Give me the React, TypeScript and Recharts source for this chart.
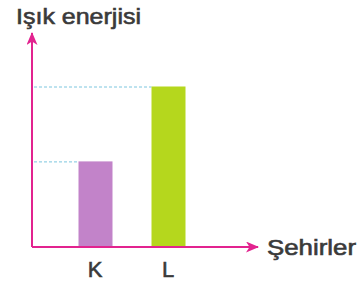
import React from "react";
import { BarChart, Bar, XAxis, YAxis, Cell } from "recharts";

const categories = ["K", "L"];
const energyValues = [4, 7.5];
const barColors = ["#c283c9", "#b5d71d"];
const yDomain: [number, number] = [0, 10];
const yTitle = "Işık enerjisi";
const xTitle = "Şehirler";

const data = categories.map((c, i) => ({ city: c, energy: energyValues[i] }));

const W = 359;
const H = 283;
const MARGIN = { top: 33, right: 101, bottom: 0, left: 30 };
const Y_AXIS_W = 2;
const AXIS = "#e2238f";
const DASH = "#7cc6df";
const TEXT = "#3a3a3a";
const FONT = "'Liberation Sans', Arial, sans-serif";

const BarWithGuide = (props: any) => {
  const { x, y, width, height, fill } = props;
  return (
    <g>
      <line
        x1={MARGIN.left + Y_AXIS_W + 2}
        y1={y + 0.5}
        x2={x}
        y2={y + 0.5}
        stroke={DASH}
        strokeWidth={1}
        strokeDasharray="3 2"
      />
      <rect x={x} y={y} width={width} height={height} fill={fill} />
    </g>
  );
};

const Tick = (props: any) => {
  const { x, payload } = props;
  return (
    <text
      x={x}
      y={277}
      textAnchor="middle"
      fontFamily={FONT}
      fontSize={22}
      fill={TEXT}
      stroke={TEXT}
      strokeWidth={0.6}
    >
      {payload.value}
    </text>
  );
};

export default function App() {
  return (
    <div style={{ position: "absolute", left: 0, top: 0, width: W, height: H, background: "#fff" }}>
      <svg width={0} height={0} style={{ position: "absolute" }}>
        <defs>
          <marker
            id="arrowHead"
            viewBox="0 0 13 11"
            refX={12}
            refY={5.5}
            markerWidth={13}
            markerHeight={11}
            markerUnits="userSpaceOnUse"
            orient="auto-start-reverse"
          >
            <path d="M0,0 L13,5.5 L0,11 L3.5,5.5 Z" fill={AXIS} />
          </marker>
        </defs>
      </svg>
      <BarChart width={W} height={H} data={data} margin={MARGIN}>
        <YAxis
          domain={yDomain}
          width={Y_AXIS_W}
          tick={false}
          tickLine={false}
          axisLine={{ stroke: AXIS, strokeWidth: 2, markerStart: "url(#arrowHead)" }}
        />
        <XAxis
          dataKey="city"
          height={36}
          padding={{ left: 26.5, right: 53.5 }}
          tickLine={false}
          tick={<Tick />}
          axisLine={{ stroke: AXIS, strokeWidth: 2, markerEnd: "url(#arrowHead)" }}
        />
        <Bar dataKey="energy" barSize={34} isAnimationActive={false} shape={<BarWithGuide />}>
          {data.map((d, i) => (
            <Cell key={d.city} fill={barColors[i]} />
          ))}
        </Bar>
      </BarChart>
      <svg width={W} height={H} style={{ position: "absolute", left: 0, top: 0, pointerEvents: "none" }}>
        <text
          x={16}
          y={24}
          fontFamily={FONT}
          fontSize={22}
          fill={TEXT}
          stroke={TEXT}
          strokeWidth={0.6}
          textLength={125}
          lengthAdjust="spacingAndGlyphs"
        >
          {yTitle}
        </text>
        <text
          x={267}
          y={255}
          fontFamily={FONT}
          fontSize={22}
          fill={TEXT}
          stroke={TEXT}
          strokeWidth={0.6}
          textLength={89}
          lengthAdjust="spacingAndGlyphs"
        >
          {xTitle}
        </text>
      </svg>
    </div>
  );
}
